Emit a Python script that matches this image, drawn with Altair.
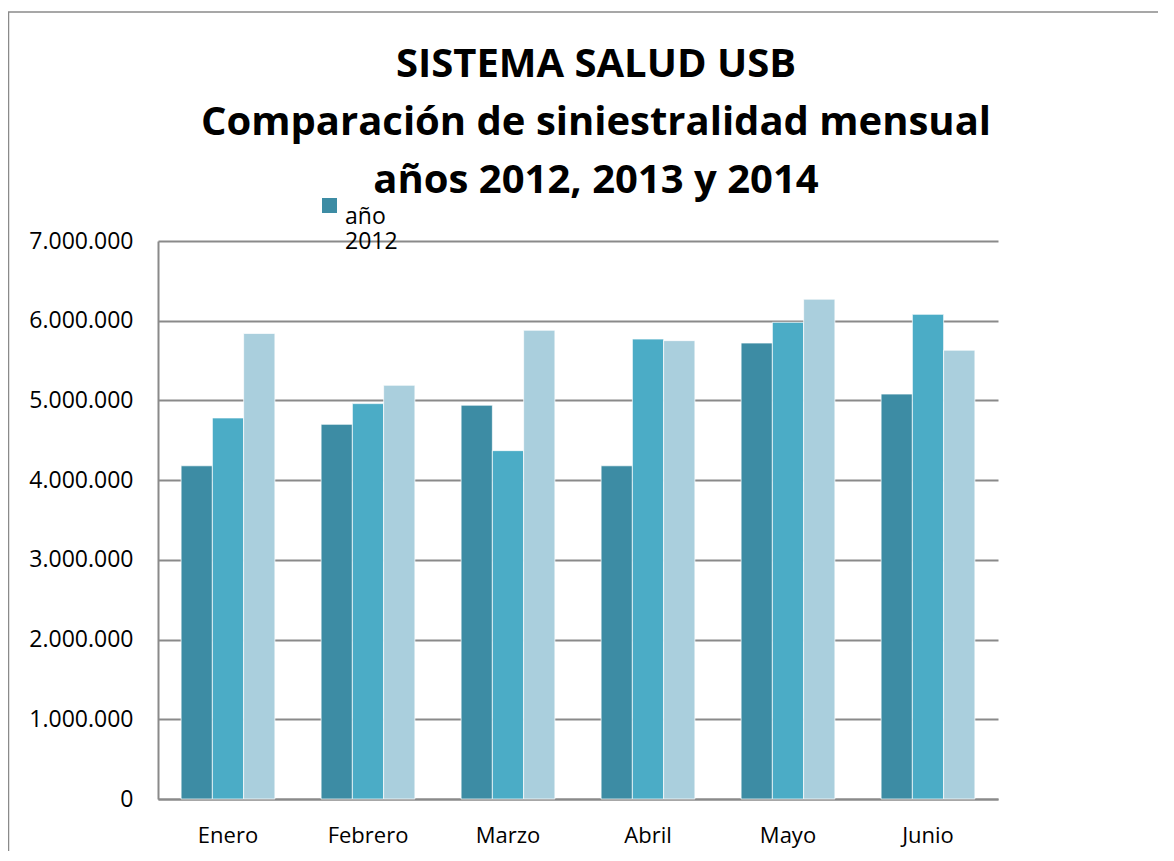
import altair as alt
import pandas as pd

months = ["Enero", "Febrero", "Marzo", "Abril", "Mayo", "Junio"]
series = ["año 2012", "año 2013", "año 2014"]
v2012 = [4180000, 4700000, 4940000, 4180000, 5720000, 5080000]
v2013 = [4780000, 4960000, 4370000, 5770000, 5980000, 6080000]
v2014 = [5840000, 5190000, 5880000, 5750000, 6270000, 5630000]
y_ticks = [0, 1000000, 2000000, 3000000, 4000000, 5000000, 6000000, 7000000]
colors = ["#3D8CA4", "#4BACC6", "#AACFDD"]
title_lines = ["SISTEMA SALUD USB", "Comparación de siniestralidad mensual", "años 2012, 2013 y 2014"]

rows = []
for s, vals in zip(series, [v2012, v2013, v2014]):
    for m, v in zip(months, vals):
        rows.append({"mes": m, "serie": s, "valor": v})
df = pd.DataFrame(rows)

FONT = "Open Sans"
GRID = "#8a8a8a"

bars = alt.Chart(df).mark_bar(stroke="white", strokeWidth=1, strokeOpacity=0.7).encode(
    x=alt.X("mes:N", sort=months,
            scale=alt.Scale(paddingInner=0.33, paddingOuter=0.165),
            axis=alt.Axis(title=None, labelAngle=0, labelFont=FONT, labelFontSize=22,
                          labelColor="black", ticks=False, labelPadding=26,
                          domainColor=GRID, domainWidth=2, grid=False)),
    xOffset=alt.XOffset("serie:N", sort=series),
    y=alt.Y("valor:Q", scale=alt.Scale(domain=[0, 7000000]),
            axis=alt.Axis(title=None, values=y_ticks,
                          labelExpr="join(split(format(datum.value, ','), ','), '.')",
                          labelFont=FONT, labelFontSize=23, labelColor="black",
                          ticks=False, labelPadding=25, domainColor=GRID, domainWidth=2,
                          grid=True, gridColor=GRID, gridWidth=2)),
    color=alt.Color("serie:N", scale=alt.Scale(domain=series, range=colors),
                    legend=alt.Legend(orient="none", legendX=160, legendY=-47, title=None,
                                      values=["año 2012"],
                                      labelExpr="split(datum.label, ' ')",
                                      symbolType="square", symbolSize=225,
                                      symbolStrokeWidth=0, labelFont=FONT,
                                      labelFontSize=23, labelColor="black",
                                      labelBaseline="top")),
)

frame = alt.Chart(pd.DataFrame({"a": [0]})).mark_rect(
    fill="transparent", stroke=GRID, strokeWidth=1.5
).encode(
    x=alt.value(-149.5), x2=alt.value(1200), y=alt.value(-229), y2=alt.value(800)
)

chart = alt.layer(frame, bars).properties(
    width=840, height=558,
    autosize=alt.AutoSizeParams(type="none"),
    padding={"left": 150, "top": 233, "right": 160, "bottom": 52},
    title=alt.TitleParams(text=title_lines, font=FONT, fontSize=40, fontWeight="bold",
                          color="black", anchor="middle", lineHeight=58, dx=18, offset=-190),
).configure_view(strokeWidth=0)

chart.save("out.html", embed_options={"renderer": "svg", "actions": False})
